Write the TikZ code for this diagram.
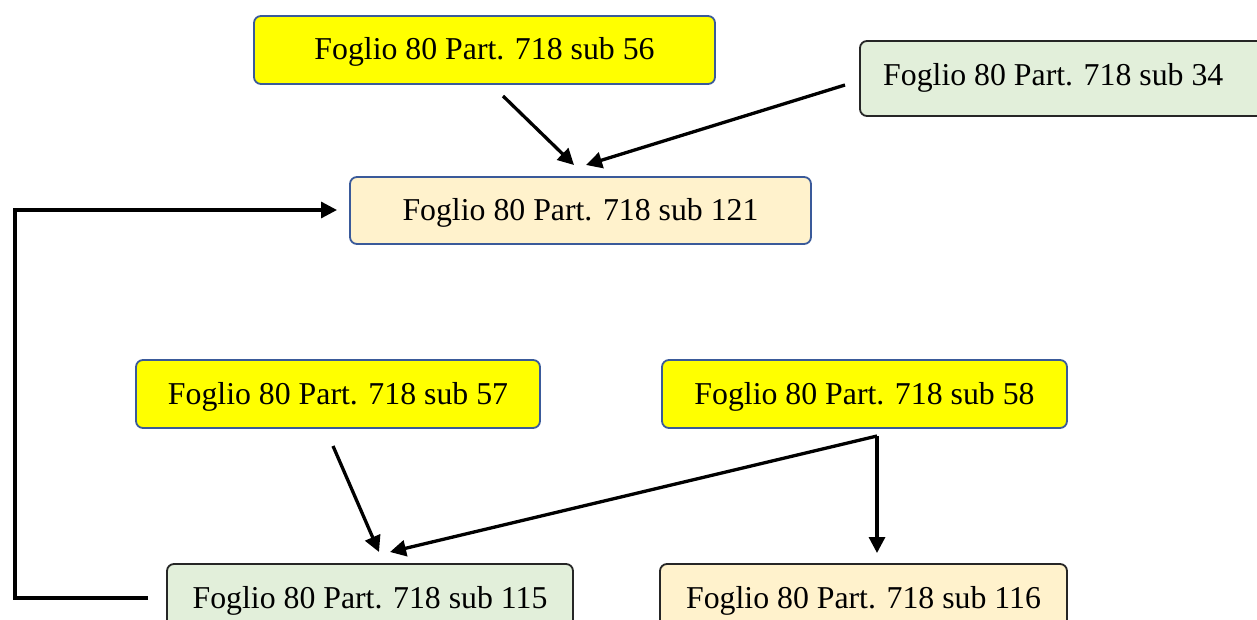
\documentclass[tikz,border=0pt]{standalone}
\usepackage{fontspec}
\setmainfont{Liberation Serif}
\usetikzlibrary{arrows.meta}
\definecolor{bordblue}{HTML}{3A5A9A}
\definecolor{lorange}{HTML}{FFF2CC}
\definecolor{lgreen}{HTML}{E2EFDA}
\definecolor{pyellow}{HTML}{FFFF00}
\tikzset{
  box/.style={draw, rounded corners=7pt, line width=1.8pt, minimum height=68pt, inner sep=0pt, text height=27pt, text depth=7pt, font=\fontsize{31.8}{36}\selectfont},
  yel/.style={box, fill=pyellow, draw=bordblue},
  org/.style={box, fill=lorange},
  grn/.style={box, fill=lgreen, draw=black!85},
  arr/.style={line width=3.3pt, -{Triangle[length=16pt,width=16pt]}}
}
\begin{document}
\begin{tikzpicture}[x=1pt,y=-1pt]
\clip (0,0) rectangle (1257,620);
\fill[white] (0,0) rectangle (1257,620);
% boxes
\node[yel, minimum width=461pt] (n56) at (484.5,50) {Foglio 80 Part. 718 sub 56};
\node[grn, minimum width=440pt, minimum height=75pt] (n34) at (1080,78.5) {};
\node[anchor=west, inner sep=0pt, text height=27pt, text depth=7pt, font=\fontsize{31.8}{36}\selectfont] (t34) at (883,76) {Foglio 80 Part. 718 sub 34};
\node[org, draw=bordblue, minimum width=461pt, minimum height=67pt] (n121) at (580.5,210.5) {Foglio 80 Part. 718 sub 121};
\node[yel, minimum width=404pt] (n57) at (338,394) {Foglio 80 Part. 718 sub 57};
\node[yel, minimum width=405pt] (n58) at (864.5,394) {Foglio 80 Part. 718 sub 58};
\node[grn, minimum width=406pt] (n115) at (370,598) {Foglio 80 Part. 718 sub 115};
\node[org, draw=black!85, minimum width=407pt] (n116) at (863.5,598) {Foglio 80 Part. 718 sub 116};
% connector ends
\coordinate (a56) at (503,96);
\coordinate (b121a) at (574,165);
\coordinate (a34) at (845,85);
\coordinate (b121b) at (586,165);
\coordinate (a115) at (148,598);
\coordinate (c1) at (15,598);
\coordinate (c2) at (15,210);
\coordinate (b121c) at (337,210);
\coordinate (a57) at (333,446);
\coordinate (b115a) at (379,552);
\coordinate (a58) at (877,436);
\coordinate (b115b) at (390,552);
\coordinate (b116) at (877,553);
% connectors
\draw[arr] (a56) -- (b121a);
\draw[arr] (a34) -- (b121b);
\draw[arr] (a115) -- (c1) -- (c2) -- (b121c);
\draw[arr] (a57) -- (b115a);
\draw[arr] (a58) -- (b115b);
\draw[arr] (a58) -- (b116);
\end{tikzpicture}
\end{document}
